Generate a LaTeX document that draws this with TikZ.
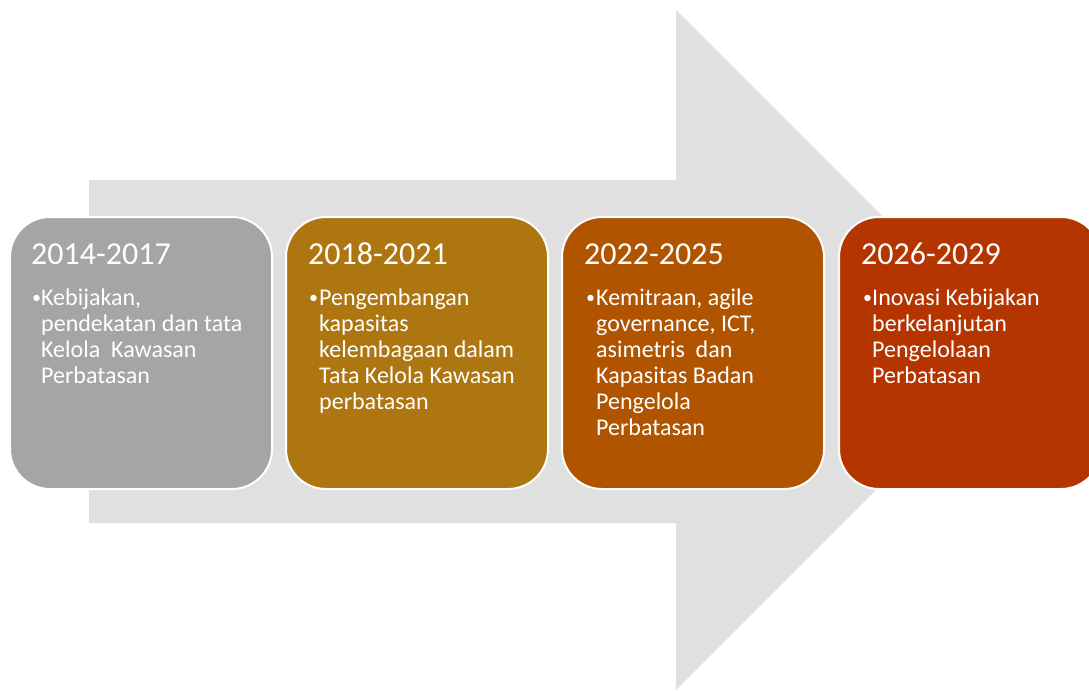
\documentclass[tikz,border=0pt]{standalone}
\usepackage{fontspec}
\setmainfont{Carlito}
\definecolor{arrowgray}{RGB}{224,224,224}
\definecolor{boxA}{RGB}{165,165,165}
\definecolor{boxB}{RGB}{173,118,16}
\definecolor{boxC}{RGB}{176,84,0}
\definecolor{boxD}{RGB}{180,53,0}
\tikzset{
  phase/.style={draw=white, line width=2pt, rounded corners=40pt, minimum width=262pt, minimum height=272pt, anchor=north west, inner sep=0pt},
  yeartxt/.style={anchor=base west, text=white, inner sep=0pt, font=\fontsize{32pt}{38pt}\selectfont},
  bullettxt/.style={anchor=base west, text=white, inner sep=0pt, font=\fontsize{18pt}{20pt}\selectfont},
  bodytxt/.style={anchor=base west, text=white, inner sep=0pt, align=left, font=\fontsize{24pt}{26pt}\selectfont}
}
\begin{document}
\begin{tikzpicture}[x=1pt,y=-1pt]
\useasboundingbox (0,0) rectangle (1089,691);
\clip (0,0) rectangle (1089,691);
% big arrow
\fill[arrowgray] (89,180) -- (676,180) -- (676,10) -- (1016,350) -- (676,690) -- (676,523) -- (89,523) -- cycle;
% boxes
\foreach \i/\x/\c in {1/9/boxA, 2/285/boxB, 3/561/boxC, 4/838/boxD}{
  \node[phase, fill=\c] (box\i) at (\x,216) {};
}
% titles
\node[yeartxt] (y1) at (31,264) {2014-2017};
\node[yeartxt] (y2) at (308,264) {2018-2021};
\node[yeartxt] (y3) at (584,264) {2022-2025};
\node[yeartxt] (y4) at (861,264) {2026-2029};
% bullets
\node[bullettxt] (b1) at (32,303) {•};
\node[bullettxt] (b2) at (309,303) {•};
\node[bullettxt] (b3) at (586,303) {•};
\node[bullettxt] (b4) at (863,303) {•};
% bodies (anchored at the baseline of the last line)
\node[bodytxt] (t1) at (41,383) {Kebijakan,\\pendekatan dan tata\\Kelola~ Kawasan\\Perbatasan};
\node[bodytxt] (t2) at (319,409) {Pengembangan\\kapasitas\\kelembagaan dalam\\Tata Kelola Kawasan\\perbatasan};
\node[bodytxt] (t3) at (596,435) {Kemitraan, agile\\governance, ICT,\\asimetris~ dan\\Kapasitas Badan\\Pengelola\\Perbatasan};
\node[bodytxt] (t4) at (872,383) {Inovasi Kebijakan\\berkelanjutan\\Pengelolaan\\Perbatasan};
\end{tikzpicture}
\end{document}
